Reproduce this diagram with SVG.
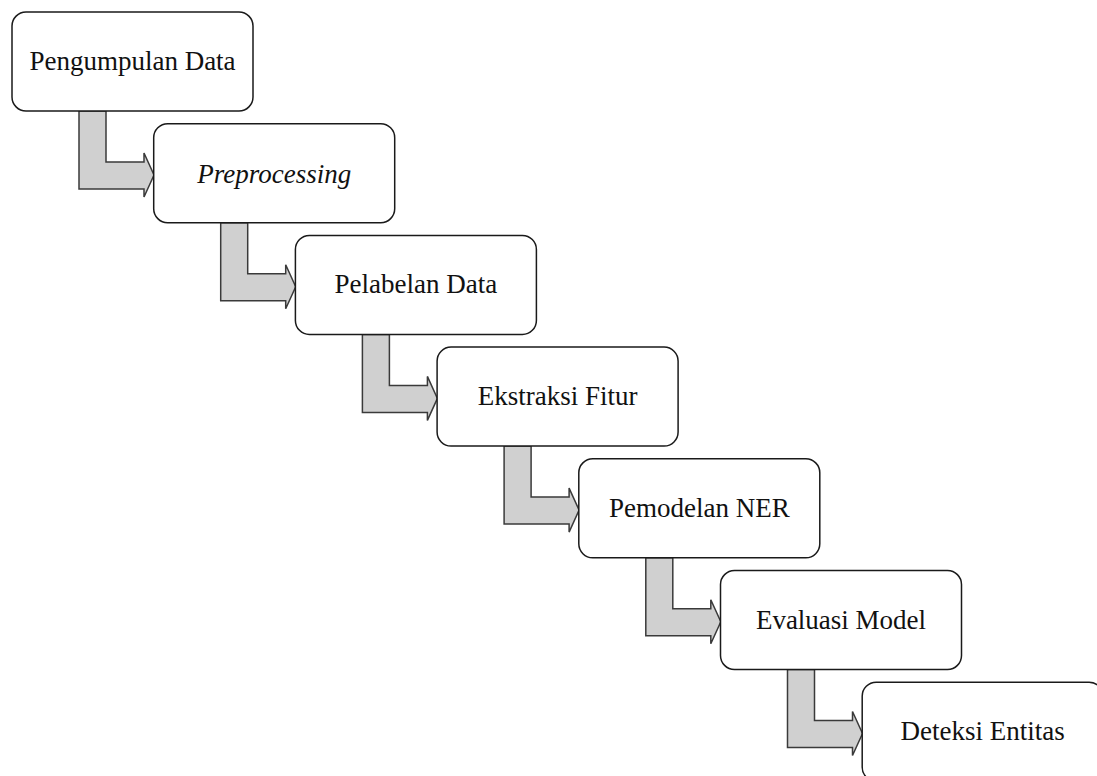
<svg xmlns="http://www.w3.org/2000/svg" width="1097" height="776" viewBox="0 0 1097 776">
<style>
.box{fill:#ffffff;stroke:#1a1a1a;stroke-width:1.5}
.arr{fill:#d0d0d0;stroke:#3a3a3a;stroke-width:1.5;stroke-linejoin:miter}
.t{font-family:"Liberation Serif","Times New Roman",serif;font-size:27px;fill:#111;text-anchor:middle}
</style>
<defs>
<path id="conn" class="arr" d="M67,99 V177 H132 V185 L142,163 L132,141 V150 H94 V99 Z"/>
</defs>
<rect width="1097" height="776" fill="#ffffff"/>
<g id="connectors">
<use href="#conn" transform="translate(12,12)"/>
<use href="#conn" transform="translate(153.7,123.7)"/>
<use href="#conn" transform="translate(295.4,235.4)"/>
<use href="#conn" transform="translate(437.1,347.1)"/>
<use href="#conn" transform="translate(578.8,458.8)"/>
<use href="#conn" transform="translate(720.5,570.5)"/>
</g>
<g id="n1" transform="translate(12,12)"><rect class="box" x="0" y="0" width="241" height="99" rx="14"/><text class="t" x="120.5" y="58">Pengumpulan Data</text></g>
<g id="n2" transform="translate(153.7,123.7)"><rect class="box" x="0" y="0" width="241" height="99" rx="14"/><text class="t" x="120.5" y="59" font-style="italic">Preprocessing</text></g>
<g id="n3" transform="translate(295.4,235.4)"><rect class="box" x="0" y="0" width="241" height="99" rx="14"/><text class="t" x="120.5" y="58">Pelabelan Data</text></g>
<g id="n4" transform="translate(437.1,347.1)"><rect class="box" x="0" y="0" width="241" height="99" rx="14"/><text class="t" x="120.5" y="58">Ekstraksi Fitur</text></g>
<g id="n5" transform="translate(578.8,458.8)"><rect class="box" x="0" y="0" width="241" height="99" rx="14"/><text class="t" x="120.5" y="58">Pemodelan NER</text></g>
<g id="n6" transform="translate(720.5,570.5)"><rect class="box" x="0" y="0" width="241" height="99" rx="14"/><text class="t" x="120.5" y="58">Evaluasi Model</text></g>
<g id="n7" transform="translate(862.2,682.2)"><rect class="box" x="0" y="0" width="241" height="99" rx="14"/><text class="t" x="120.5" y="58">Deteksi Entitas</text></g>
</svg>
